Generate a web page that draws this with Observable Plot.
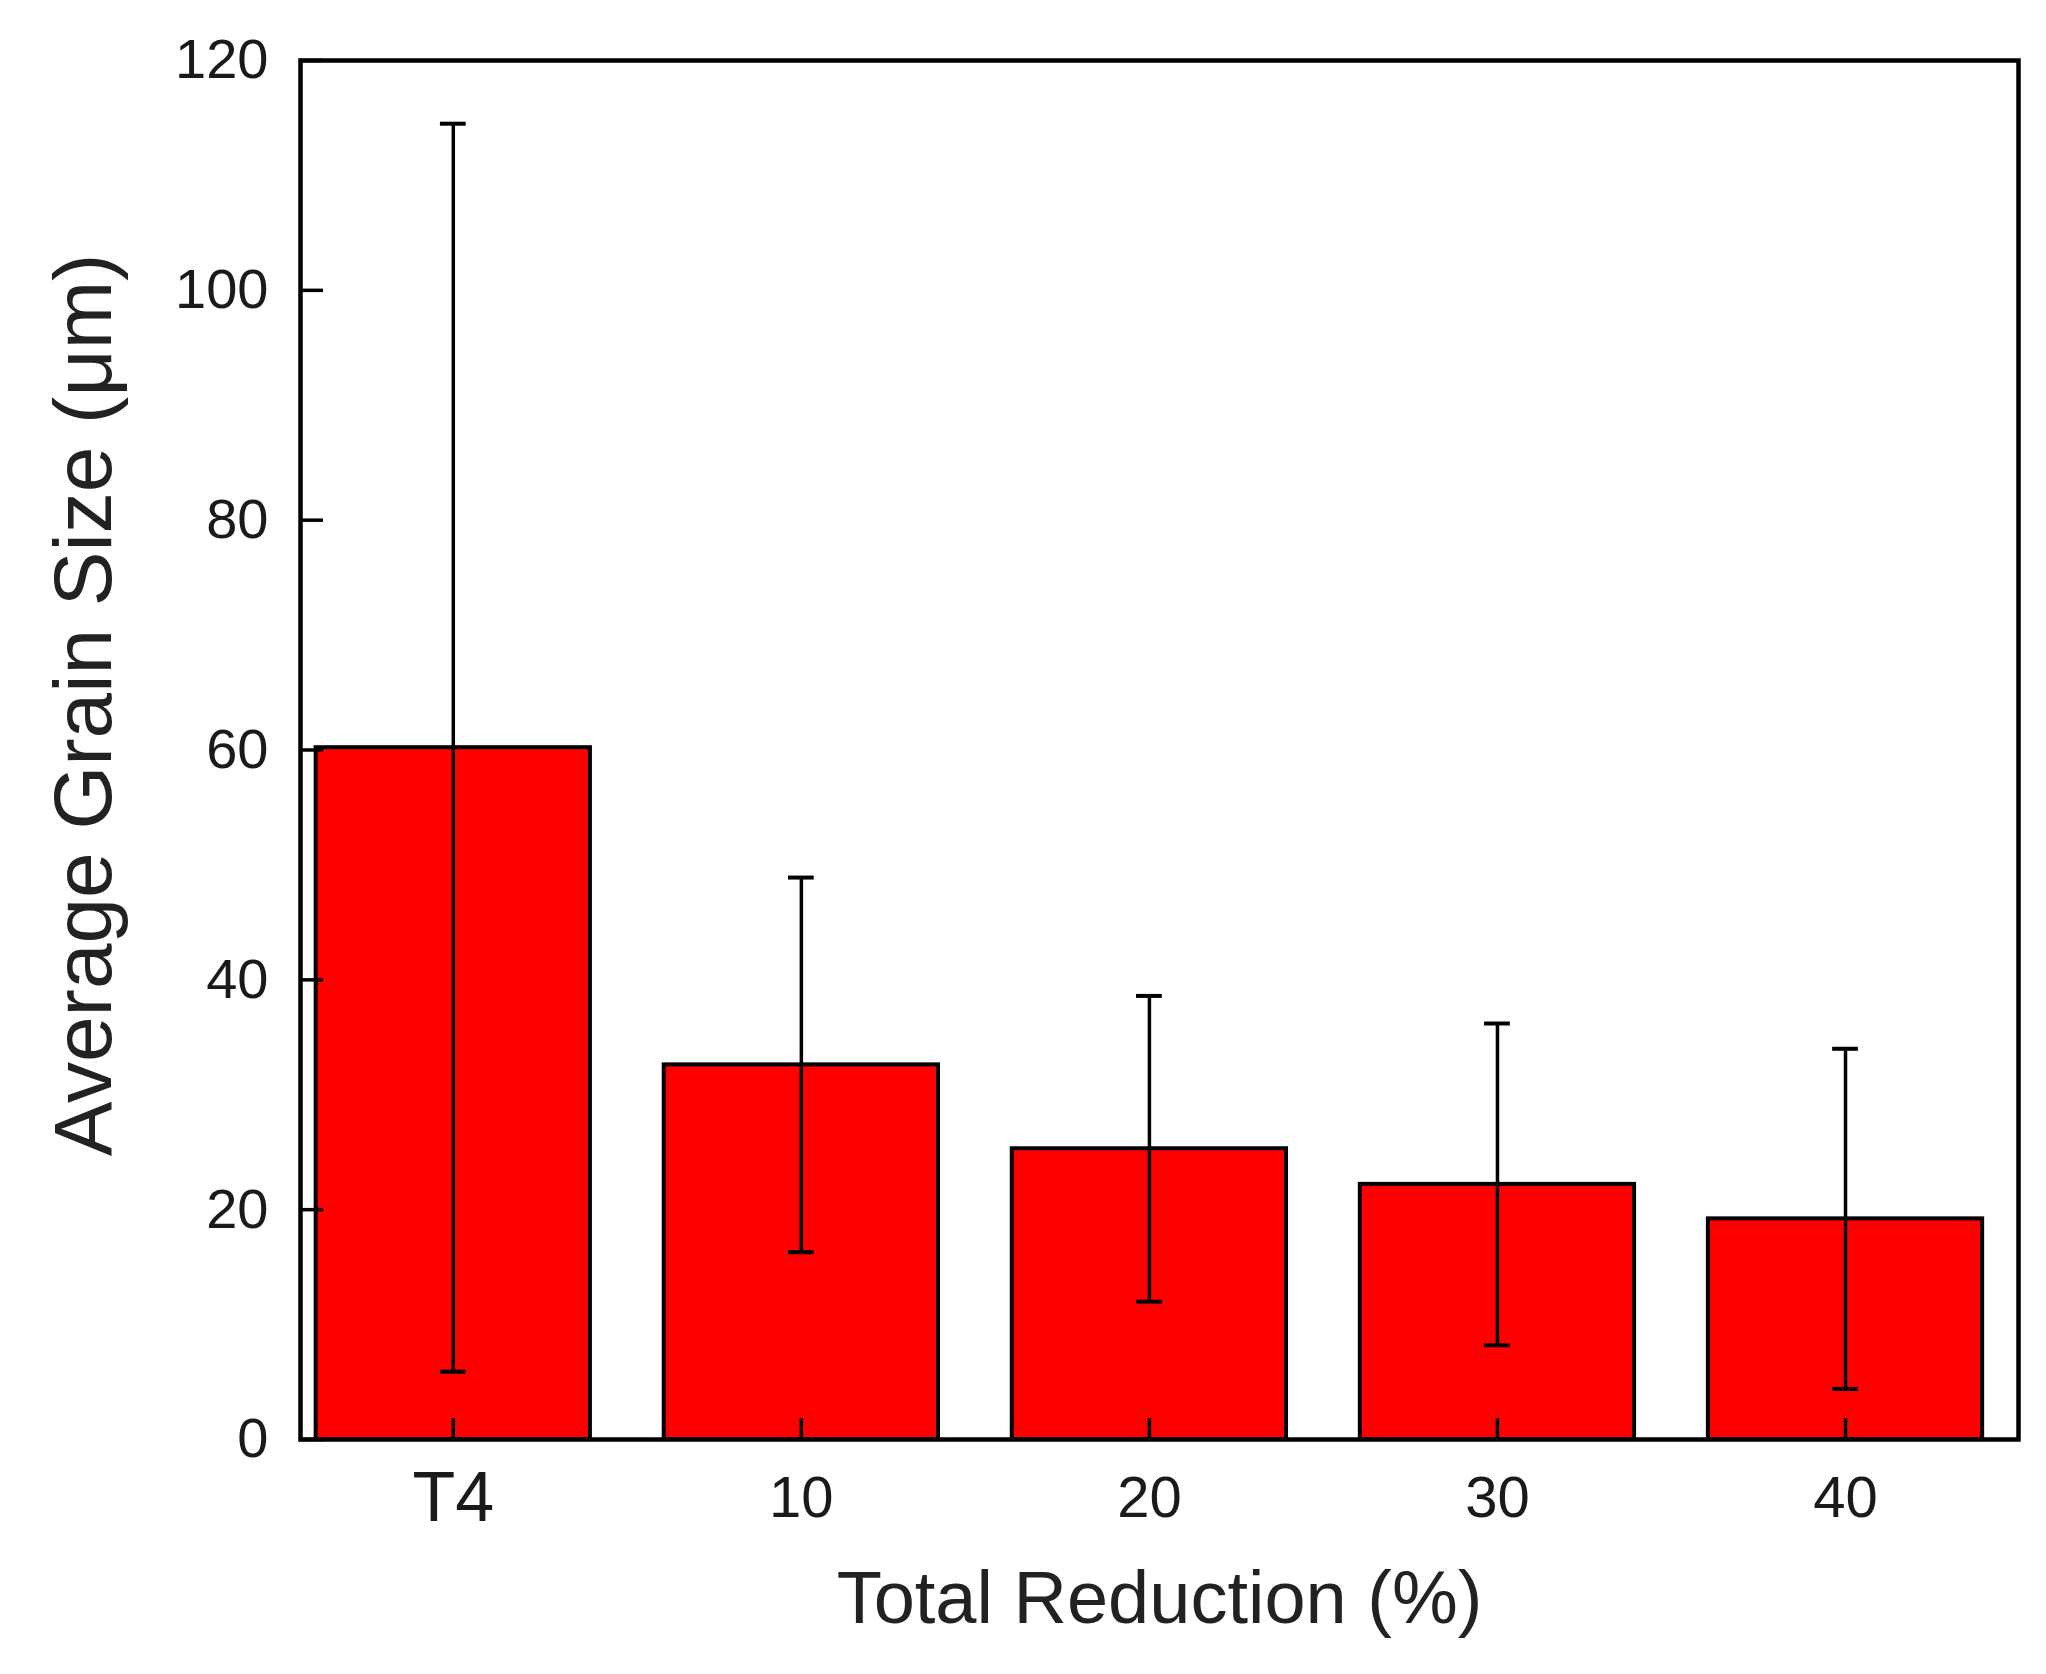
<!DOCTYPE html>
<html>
<head>
<meta charset="utf-8">
<script src="https://cdn.jsdelivr.net/npm/d3@7"></script>
<script src="https://cdn.jsdelivr.net/npm/@observablehq/plot@0.6"></script>
<style>
  html, body { margin: 0; padding: 0; background: #fff; }
  #chart svg { display: block; }
</style>
</head>
<body>
<div id="chart"></div>
<script>
// Data
const categories = ["T4", "10", "20", "30", "40"];
const reduction = [0, 10, 20, 30, 40];          // total reduction (%) ; T4 = 0
const grainSize = [60.2, 32.6, 25.3, 22.2, 19.2]; // µm
const grainErr  = [54.3, 16.3, 13.3, 14.0, 14.8]; // µm
const yTicks = [0, 20, 40, 60, 80, 100, 120];

const data = categories.map((c, i) => ({
  cat: c, x: reduction[i], v: grainSize[i], e: grainErr[i]
}));

const barHalf = 3.94;   // half bar width in x units
const capHalf = 0.37;   // half error-cap width in x units
const font = "'Liberation Sans', Arial, Helvetica, sans-serif";

const chart = Plot.plot({
  width: 2046,
  height: 1674,
  marginLeft: 300,
  marginRight: 28,
  marginTop: 60,
  marginBottom: 235,
  style: { fontFamily: font, background: "#fff", color: "#000" },
  x: { domain: [-4.39, 44.97] },
  y: { domain: [0, 120] },
  marks: [
    Plot.rectY(data, {
      x1: d => d.x - barHalf, x2: d => d.x + barHalf, y1: 0, y2: "v",
      fill: "#ff0000", stroke: "#000", strokeWidth: 4
    }),
    Plot.ruleX(data, { x: "x", y1: d => d.v - d.e, y2: d => d.v + d.e, stroke: "#000", strokeWidth: 3.5 }),
    Plot.ruleY(data, { y: d => d.v + d.e, x1: d => d.x - capHalf, x2: d => d.x + capHalf, stroke: "#000", strokeWidth: 4 }),
    Plot.ruleY(data, { y: d => d.v - d.e, x1: d => d.x - capHalf, x2: d => d.x + capHalf, stroke: "#000", strokeWidth: 4 }),
    // inward tick marks
    Plot.axisY({ ticks: yTicks, tickSize: -23, tickFormat: () => "", label: null, strokeWidth: 3.5 }),
    Plot.axisX({ ticks: reduction, tickSize: -21, tickFormat: () => "", label: null, strokeWidth: 3.5 }),
    // y tick labels
    Plot.axisY({ ticks: yTicks, tickSize: 0, tickPadding: 32, label: null, fontSize: 56, fill: "#1a1a1a" }),
    // x tick labels
    Plot.text(data, {
      x: "x", text: "cat", frameAnchor: "bottom", dy: 59, lineAnchor: "middle",
      fontSize: d => d.cat === "T4" ? 70 : 58, fill: "#1a1a1a"
    }),
    Plot.frame({ stroke: "#000", strokeWidth: 4.5 }),
    // axis titles
    Plot.text(["Total Reduction (%)"], {
      frameAnchor: "bottom", dy: 160, lineAnchor: "middle", textAnchor: "middle", fontSize: 74, fill: "#222"
    }),
    Plot.text(["Average Grain Size (μm)"], {
      frameAnchor: "left", rotate: -90, dx: -216, dy: -45, lineAnchor: "middle", textAnchor: "middle", fontSize: 82, fill: "#222"
    })
  ]
});

document.getElementById("chart").appendChild(chart);
</script>
</body>
</html>
